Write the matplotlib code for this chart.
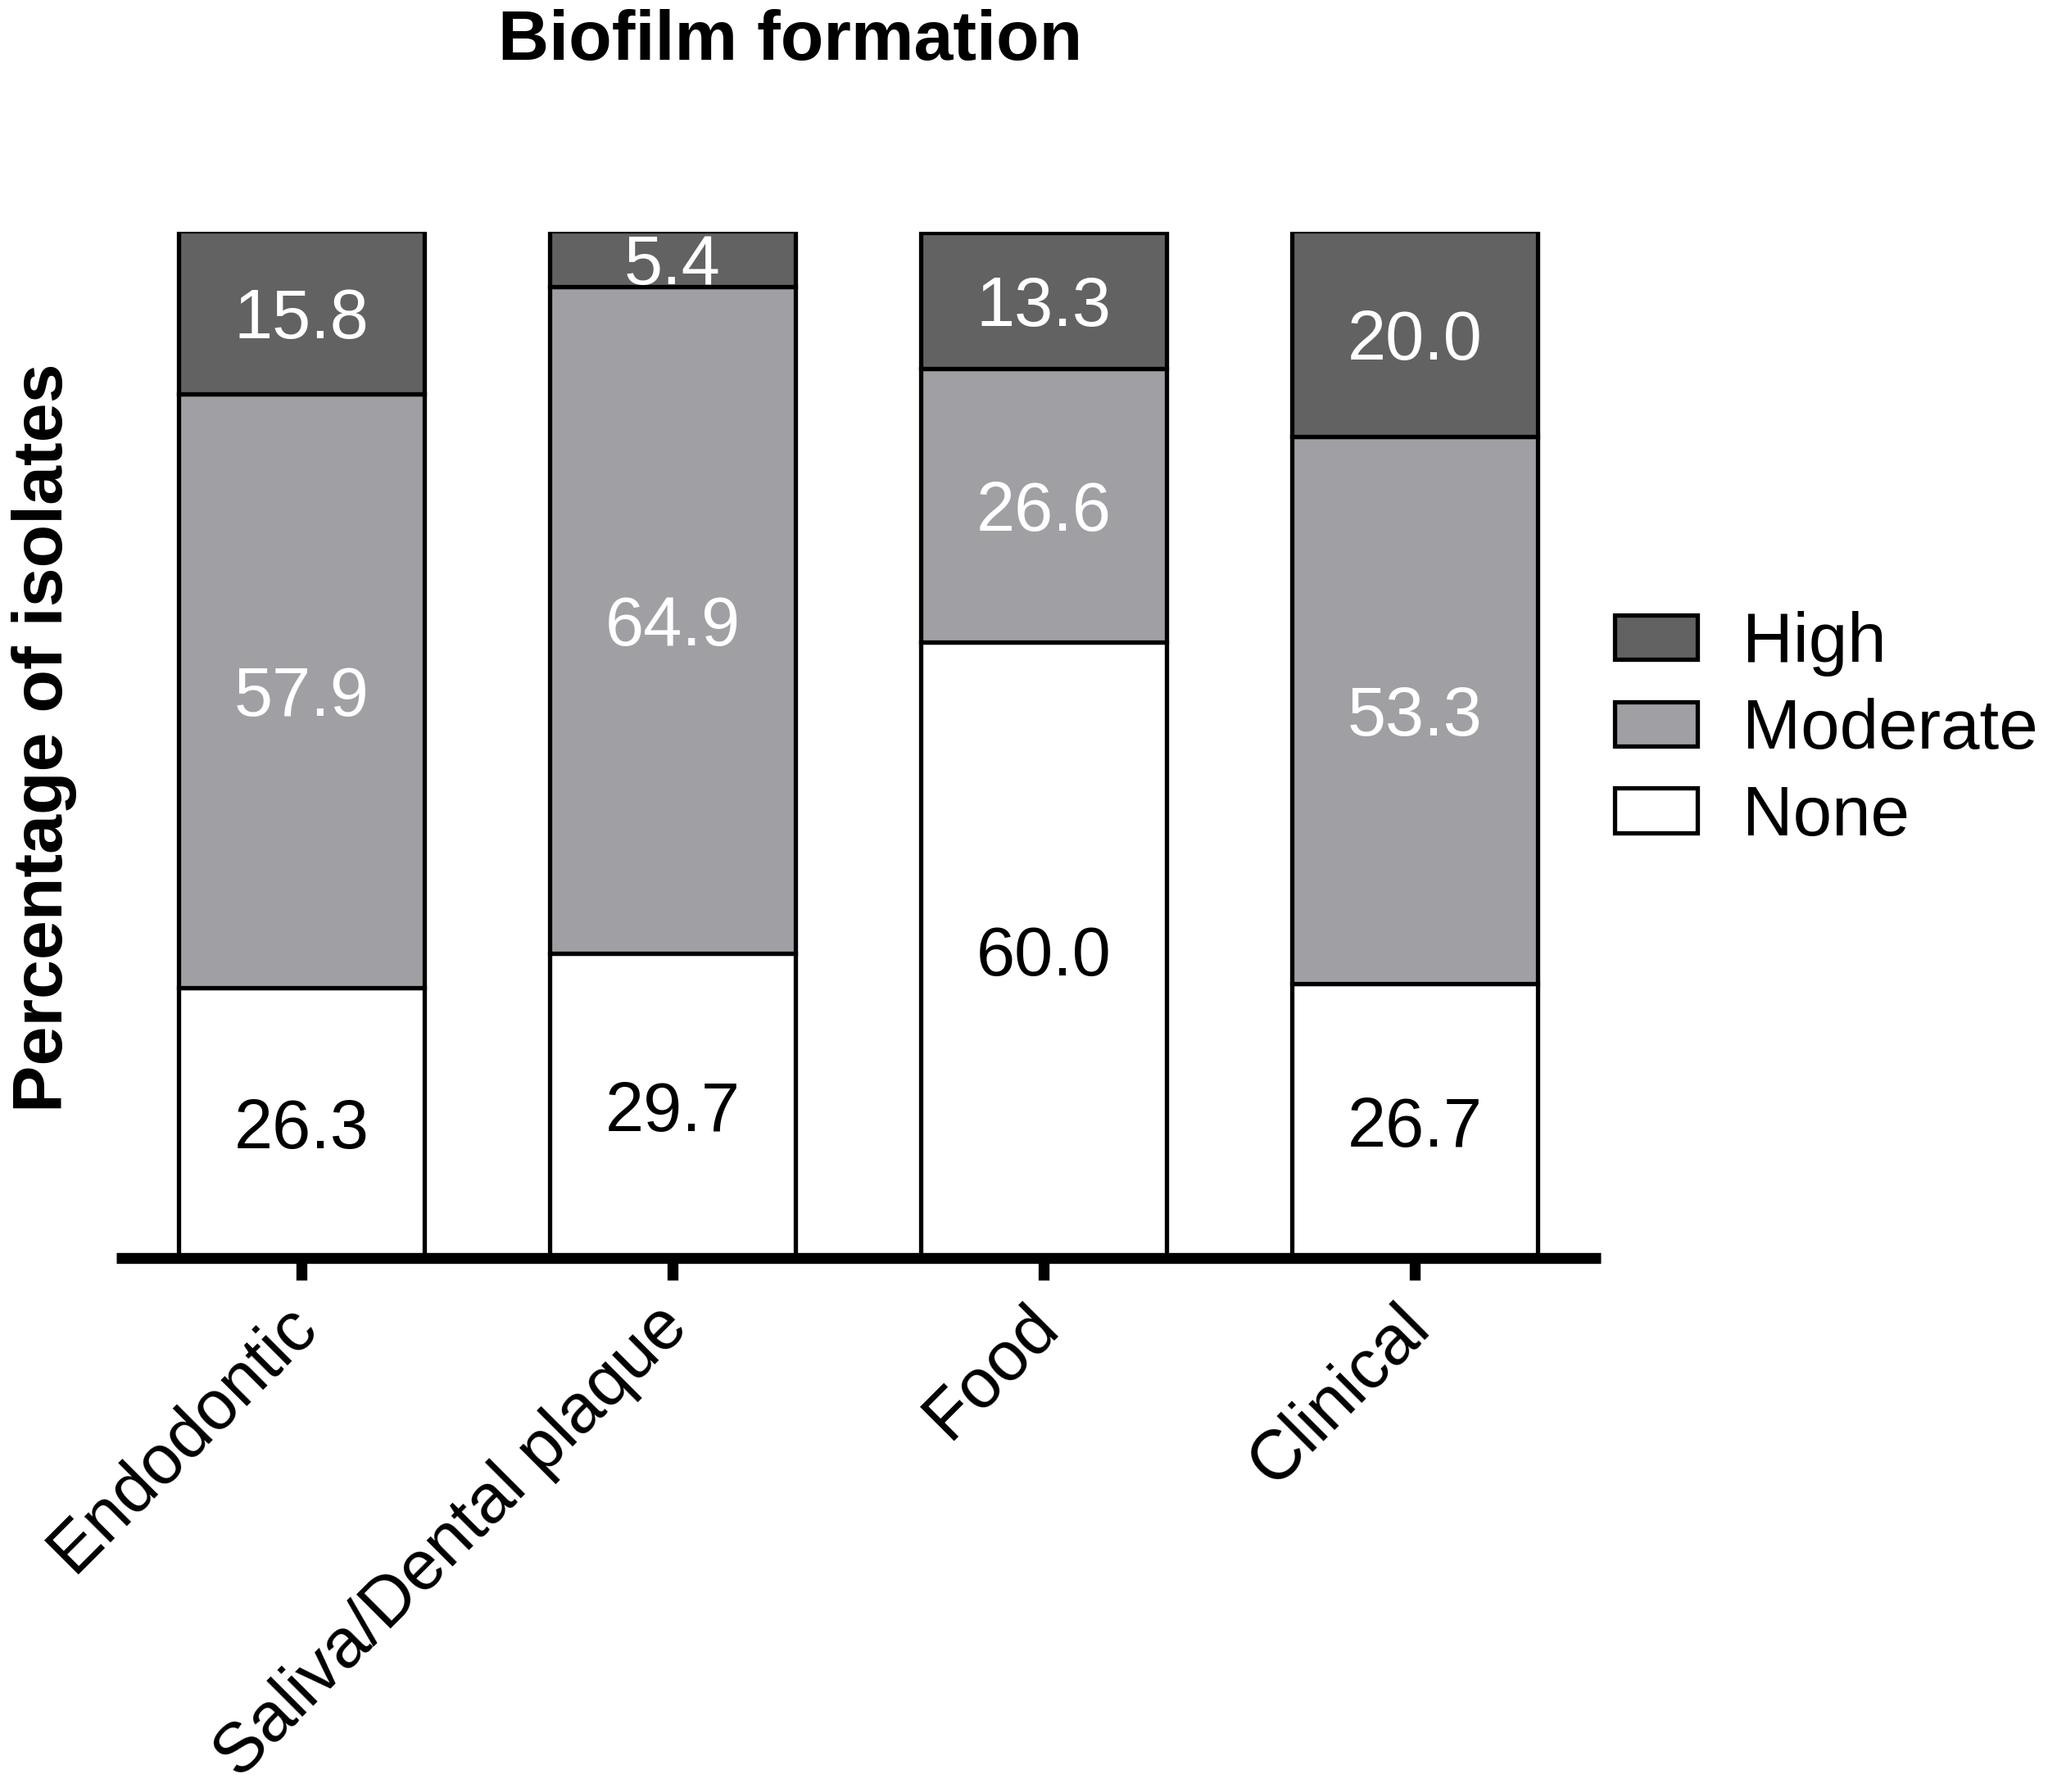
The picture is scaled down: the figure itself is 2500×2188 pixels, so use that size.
import matplotlib
matplotlib.use("Agg")
import matplotlib.pyplot as plt
import matplotlib.transforms as mtransforms
import numpy as np

plt.rcParams['font.family'] = ['Liberation Sans', 'DejaVu Sans']

categories = ["Endodontic", "Saliva/Dental plaque", "Food", "Clinical"]
none_vals = [26.3, 29.7, 60.0, 26.7]
moderate_vals = [57.9, 64.9, 26.6, 53.3]
high_vals = [15.8, 5.4, 13.3, 20.0]
series_names = ["None", "Moderate", "High"]
series_colors = ["#ffffff", "#a09fa4", "#626262"]
label_colors = ["black", "white", "white"]

W, H = 2500, 2188
fig = plt.figure(figsize=(W / 100, H / 100), dpi=100)
ax = fig.add_axes([141.5 / W, 1 - 1536 / H, 1812 / W, 1253.5 / H])

x = np.arange(len(categories))
bottom = np.zeros(len(categories))
handles = {}
for name, vals, col, lcol in zip(series_names, [none_vals, moderate_vals, high_vals],
                                  series_colors, label_colors):
    vals = np.array(vals)
    bars = ax.bar(x, vals, width=0.663, bottom=bottom, color=col,
                  edgecolor="black", linewidth=3.8, zorder=2)
    handles[name] = bars
    for xi, b, v in zip(x, bottom, vals):
        ax.text(xi, b + v / 2, f"{v:.1f}", ha="center", va="center_baseline",
                fontsize=61, color=lcol, zorder=3)
    bottom = bottom + vals

ax.set_xlim(-0.5, 3.5)
ax.set_ylim(0, 100)
for s in ["left", "right", "top"]:
    ax.spines[s].set_visible(False)
ax.spines["bottom"].set_linewidth(9.6)
ax.spines["bottom"].set_capstyle("butt")
ax.spines["bottom"].set_zorder(4)
ax.set_yticks([])
ax.set_xticks(x)
ax.tick_params(axis="x", length=19.4, width=9.6, direction="out", pad=32, color="black")
labels = ax.set_xticklabels(categories, rotation=45, ha="right", va="center",
                            rotation_mode="anchor", fontsize=61)
offset = mtransforms.ScaledTranslation(4 / 72, 0, fig.dpi_scale_trans)
for lab in labels:
    lab.set_transform(lab.get_transform() + offset)

fig.text(965 / W, 1 - 73 / H, "Biofilm formation", ha="center", va="baseline",
         fontsize=62, fontweight="bold")
fig.text(76 / W, 1 - 901 / H, "Percentage of isolates", rotation=90,
         rotation_mode="anchor", ha="center", va="baseline",
         fontsize=62, fontweight="bold")

leg = ax.legend([handles["High"], handles["Moderate"], handles["None"]],
                ["High", "Moderate", "None"], loc="center left",
                bbox_to_anchor=(1971 / W, 1 - 892 / H), bbox_transform=fig.transFigure,
                frameon=False, fontsize=61.5, handlelength=1.18, handleheight=0.60,
                handletextpad=0.65, labelspacing=0.30, borderpad=0, borderaxespad=0)

fig.savefig("out.png", dpi=100)
